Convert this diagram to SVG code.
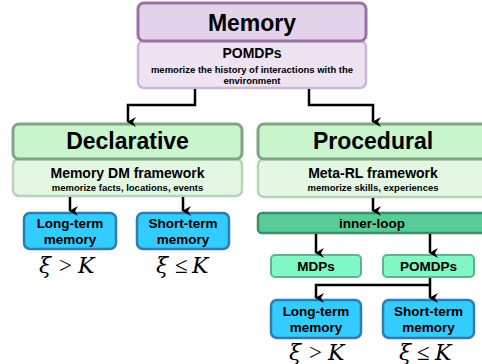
<svg xmlns="http://www.w3.org/2000/svg" width="482" height="364" viewBox="0 0 482 364">
<defs>
<marker id="ah" markerWidth="10" markerHeight="10" refX="5" refY="8" orient="auto" markerUnits="userSpaceOnUse" viewBox="0 0 10 10">
<path d="M0,0 L5,3 L10,0 L5,9 Z" fill="#000"/>
</marker>
<style>
text{font-family:"Liberation Sans",Arial,sans-serif;font-weight:bold;text-anchor:middle;fill:#000}
.big{font-size:23px}
.mid{font-size:14px}
.sm{font-size:9.5px}
.cell{font-size:13.5px}
.f{font-family:"Liberation Serif","Times New Roman",serif;font-weight:normal;font-size:23px;text-anchor:start}
.i{font-family:"DejaVu Serif",serif;font-style:italic;font-size:22px}
.mem{fill:#e2d3ea;stroke:#9a72a8;stroke-width:3}
.memsub{fill:#ede3f1;stroke:#cbb8d5;stroke-width:2.5}
.cat{fill:#c8f5cc;stroke:#7fa584;stroke-width:3}
.catsub{fill:#e3f7e3;stroke:#b8d3b9;stroke-width:2.5}
.blue{fill:#33ccff;stroke:#2b7db3;stroke-width:2.5}
.inner{fill:#57cc99;stroke:#3a8f68;stroke-width:2.5}
.mdp{fill:#80f7c4;stroke:#5ab78c;stroke-width:2}
.conn path{fill:none;stroke:#000;stroke-width:2.5;marker-end:url(#ah)}
</style>
</defs>
<g id="memory">
<rect class="memsub" x="138" y="41" width="228" height="47" rx="6"/>
<rect class="mem" x="138" y="3" width="228" height="38" rx="6"/>
<text class="big" x="252" y="31">Memory</text>
<text class="mid" x="252" y="58">POMDPs</text>
<text class="sm" x="252" y="73">memorize the history of interactions with the</text>
<text class="sm" x="252" y="84">environment</text>
</g>
<g id="declarative">
<rect class="catsub" x="13" y="159" width="229" height="37" rx="6"/>
<rect class="cat" x="13" y="124" width="229" height="35" rx="6"/>
<text class="big" x="127.5" y="149">Declarative</text>
<text class="mid" x="127.5" y="178">Memory DM framework</text>
<text class="sm" x="127.5" y="191">memorize facts, locations, events</text>
</g>
<g id="decl-long">
<rect class="blue" x="24" y="213" width="92" height="36" rx="6"/>
<text class="cell" x="70" y="228">Long-term</text>
<text class="cell" x="70" y="244">memory</text>
</g>
<g id="decl-short">
<rect class="blue" x="137" y="213" width="92" height="36" rx="6"/>
<text class="cell" x="183" y="228">Short-term</text>
<text class="cell" x="183" y="244">memory</text>
</g>
<g id="decl-f1"><text class="f" y="273"><tspan class="i" x="39">ξ</tspan><tspan x="59">&gt;</tspan><tspan class="i" x="78">K</tspan></text></g>
<g id="decl-f2"><text class="f" y="273"><tspan class="i" x="156">ξ</tspan><tspan x="175">≤</tspan><tspan class="i" x="192">K</tspan></text></g>
<g id="procedural">
<rect class="catsub" x="258" y="159" width="232" height="38" rx="6"/>
<rect class="cat" x="258" y="124" width="232" height="35" rx="6"/>
<text class="big" x="373" y="149">Procedural</text>
<text class="mid" x="373" y="178">Meta-RL framework</text>
<text class="sm" x="373" y="191">memorize skills, experiences</text>
</g>
<g id="inner-loop">
<rect class="inner" x="258" y="213" width="232" height="20" rx="4"/>
<text class="cell" x="372" y="228">inner-loop</text>
</g>
<g id="mdps">
<rect class="mdp" x="271" y="255" width="90" height="22" rx="4"/>
<text class="cell" x="316" y="271">MDPs</text>
</g>
<g id="pomdps">
<rect class="mdp" x="383" y="255" width="91" height="22" rx="4"/>
<text class="cell" x="428.5" y="271">POMDPs</text>
</g>
<g id="proc-long">
<rect class="blue" x="271" y="300" width="90" height="38" rx="6"/>
<text class="cell" x="316" y="316">Long-term</text>
<text class="cell" x="316" y="332">memory</text>
</g>
<g id="proc-short">
<rect class="blue" x="383" y="300" width="91" height="38" rx="6"/>
<text class="cell" x="428.5" y="316">Short-term</text>
<text class="cell" x="428.5" y="332">memory</text>
</g>
<g id="proc-f1"><text class="f" y="360"><tspan class="i" x="289">ξ</tspan><tspan x="309">&gt;</tspan><tspan class="i" x="328">K</tspan></text></g>
<g id="proc-f2"><text class="f" y="360"><tspan class="i" x="399">ξ</tspan><tspan x="417">≤</tspan><tspan class="i" x="435">K</tspan></text></g>
<g id="connectors" class="conn">
<path d="M195 89 V105 H128 V122"/>
<path d="M309 89 V105 H373 V122"/>
<path d="M70 197 V211"/>
<path d="M183 197 V211"/>
<path d="M373 198 V211"/>
<path d="M316 234 V253"/>
<path d="M430 234 V253"/>
<path d="M430 278 V298"/>
<path d="M430 285 H316 V298"/>
</g>
</svg>
